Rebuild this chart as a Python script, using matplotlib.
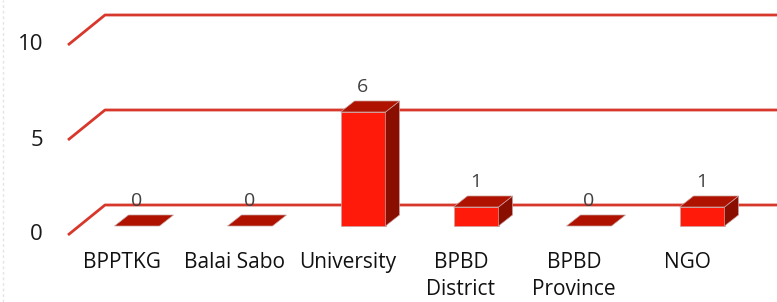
import matplotlib
matplotlib.use("Agg")
import matplotlib.pyplot as plt
from matplotlib.patches import Polygon

categories = ["BPPTKG", "Balai Sabo", "University", "BPBD\nDistrict", "BPBD\nProvince", "NGO"]
values = [0, 0, 6, 1, 0, 1]
ytick_vals = [0, 5, 10]

W, H = 777, 302
PX_X = 113.0   # pixels per category
PX_Y = 19.0    # pixels per unit value
X0_PX, Y0_PX = 122.0, 235.0

# perspective offsets (data units)
AX_DX, AX_DY = 37 / PX_X, 30 / PX_Y       # floor depth
BAR_OX, BAR_OY = 15 / PX_X, 9 / PX_Y      # bars sit inside the depth
BAR_DX, BAR_DY = 14 / PX_X, 11 / PX_Y     # bar depth
BAR_W = 45 / PX_X
GRID_LEFT = (68 - X0_PX) / PX_X

FRONT = "#ff1a0a"
TOP = "#b01200"
SIDE = "#8a0e00"
GRID = "#d8382c"
FONT = "Open Sans"

fig = plt.figure(figsize=(W / 100, H / 100), dpi=100)
ax = fig.add_axes([0, 0, 1, 1])
ax.set_xlim(-X0_PX / PX_X, (W - X0_PX) / PX_X)
ax.set_ylim((Y0_PX - H) / PX_Y, Y0_PX / PX_Y)
ax.axis("off")

# gridlines with floor-like perspective
x_right = (W - X0_PX) / PX_X + 0.1
for v in ytick_vals:
    ax.plot([GRID_LEFT, GRID_LEFT + AX_DX, x_right], [v, v + AX_DY, v + AX_DY],
            color=GRID, lw=2, solid_capstyle="butt", zorder=1)
    ax.text(GRID_LEFT - 25 / PX_X, v, str(v), ha="right", va="center",
            fontsize=16, family=FONT, color="#1a1a1a")

# bars
for i, (cat, v) in enumerate(zip(categories, values)):
    xl = i - BAR_W / 2 + BAR_OX
    xr = xl + BAR_W
    y0 = BAR_OY
    y1 = BAR_OY + v
    edge = dict(edgecolor="#c9a0a0", lw=0.5, zorder=3)
    if v > 0:
        ax.add_patch(Polygon([(xl, y0), (xr, y0), (xr, y1), (xl, y1)], facecolor=FRONT, **edge))
        ax.add_patch(Polygon([(xr, y0), (xr + BAR_DX, y0 + BAR_DY), (xr + BAR_DX, y1 + BAR_DY), (xr, y1)],
                             facecolor=SIDE, **edge))
    ax.add_patch(Polygon([(xl, y1), (xr, y1), (xr + BAR_DX, y1 + BAR_DY), (xl + BAR_DX, y1 + BAR_DY)],
                         facecolor=TOP, **edge))
    ax.text((xl + xr) / 2, y1 + BAR_DY + 5 / PX_Y, str(v), ha="center", va="bottom",
            fontsize=14, family=FONT, color="#404040", zorder=4)
    ax.text(i, (Y0_PX - 252) / PX_Y, cat, ha="center", va="top", linespacing=1.4,
            fontsize=15, family=FONT, color="#111111")

# faint left border
ax.plot([3 / PX_X - X0_PX / PX_X] * 2, [(Y0_PX - H) / PX_Y, Y0_PX / PX_Y],
        color="#e4e4e4", lw=1, ls=(0, (2, 2)), zorder=0)

fig.savefig("out.png", dpi=100, facecolor="white")
